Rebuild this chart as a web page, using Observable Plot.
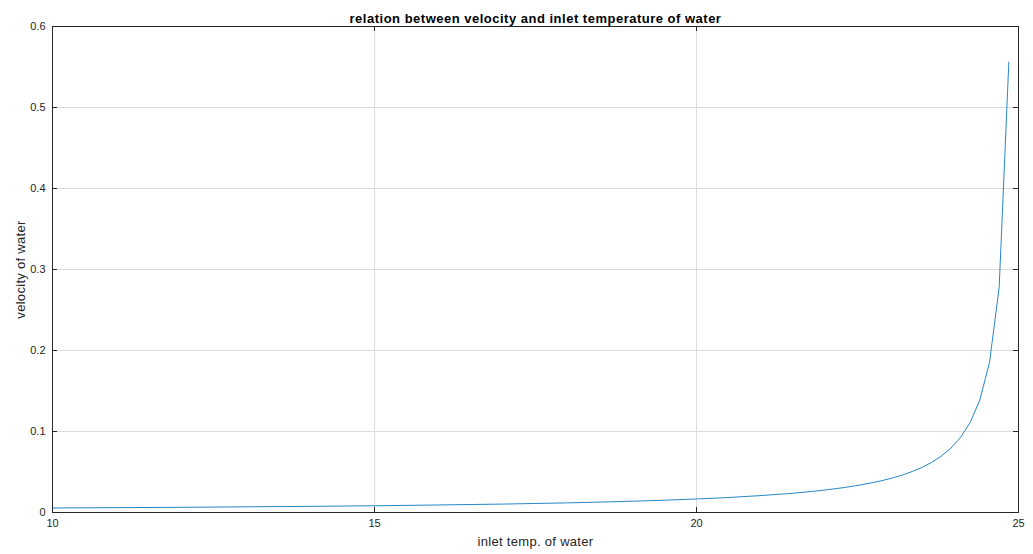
<!DOCTYPE html>
<html>
<head>
<meta charset="utf-8">
<script src="https://cdn.jsdelivr.net/npm/d3@7"></script>
<script src="https://cdn.jsdelivr.net/npm/@observablehq/plot@0.6"></script>
<style>
  html, body { margin: 0; padding: 0; background: #fff; }
  svg { display: block; }
</style>
</head>
<body>
<div id="chart"></div>
<script>
// inlet temperature of water
const temperature = [10, 11, 12, 13, 14, 15, 16, 17, 18, 19, 19.5, 20, 20.5, 21, 21.4, 21.55, 21.7, 21.85,
  22, 22.15, 22.3, 22.45, 22.6, 22.75, 22.9, 23.05, 23.2, 23.35, 23.5, 23.65, 23.8, 23.95,
  24.1, 24.25, 24.4, 24.55, 24.7, 24.85];
// velocity of water
const velocity = [0.0056, 0.0060, 0.0064, 0.0070, 0.0076, 0.0083, 0.0093, 0.0104, 0.0119, 0.0139, 0.0152, 0.0167, 0.0185, 0.0209, 0.0232, 0.0242, 0.0253, 0.0265,
  0.0278, 0.0293, 0.0309, 0.0327, 0.0348, 0.0371, 0.0397, 0.0428, 0.0463, 0.0506, 0.0556, 0.0618, 0.0695, 0.0794,
  0.0927, 0.1112, 0.139, 0.1853, 0.278, 0.556];
const xTicks = [10, 15, 20, 25];
const yTicks = [0, 0.1, 0.2, 0.3, 0.4, 0.5, 0.6];
const titleText = "relation between velocity and inlet temperature of water";
const xLabel = "inlet temp. of water";
const yLabel = "velocity of water";

const data = temperature.map((t, i) => ({t, v: velocity[i]}));

const W = 1033, H = 554;
const mL = 52, mR = 15, mT = 26, mB = 42;
const fw = W - mL - mR, fh = H - mT - mB;
const tickLen = 5;
const ink = "#262626";
const font = "'Liberation Sans', Arial, Helvetica, sans-serif";

const chart = Plot.plot({
  width: W,
  height: H,
  marginLeft: mL,
  marginRight: mR,
  marginTop: mT,
  marginBottom: mB,
  style: {fontFamily: font, fontSize: "11px", color: ink, background: "#fff"},
  x: {domain: [10, 25], ticks: xTicks},
  y: {domain: [0, 0.6], ticks: yTicks},
  marks: [
    Plot.gridX(xTicks.slice(1, -1), {stroke: "#dcdcdc", strokeOpacity: 1}),
    Plot.gridY(yTicks.slice(1, -1), {stroke: "#dcdcdc", strokeOpacity: 1}),
    Plot.line(data, {x: "t", y: "v", stroke: "#0072BD", strokeWidth: 1, strokeOpacity: 0.85}),
    // inward ticks (left, right, bottom, top)
    Plot.tickY(yTicks.slice(1, -1), {y: d => d, insetRight: fw - tickLen, stroke: ink}),
    Plot.tickY(yTicks.slice(1, -1), {y: d => d, insetLeft: fw - tickLen, stroke: ink}),
    Plot.tickX(xTicks.slice(1, -1), {x: d => d, insetTop: fh - tickLen, stroke: ink}),
    Plot.tickX(xTicks.slice(1, -1), {x: d => d, insetBottom: fh - tickLen, stroke: ink}),
    Plot.frame({stroke: ink, strokeWidth: 1}),
    Plot.axisX(xTicks, {tickSize: 0, tickPadding: 7, label: null, fill: ink, fontSize: 11}),
    Plot.axisY(yTicks, {tickSize: 0, tickPadding: 7, label: null, fill: ink, fontSize: 11, tickFormat: d => String(d)}),
    Plot.text([titleText], {frameAnchor: "top", dy: -13, text: d => d, fontWeight: "bold", fontSize: 13, fill: "#000", textAnchor: "middle", style: "letter-spacing:0.5px"}),
    Plot.text([xLabel], {frameAnchor: "bottom", dy: 33, text: d => d, fontSize: 13, fill: ink, textAnchor: "middle"}),
    Plot.text([yLabel], {frameAnchor: "left", dx: -32, rotate: -90, text: d => d, fontSize: 13, fill: ink, textAnchor: "middle"})
  ]
});
// mild letter spacing like the original rendering
d3.select(chart).selectAll("text").filter(function() { return this.textContent === titleText; }).attr("letter-spacing", "0.5px");
d3.select(chart).selectAll("text").filter(function() { return this.textContent === xLabel || this.textContent === yLabel; }).attr("letter-spacing", "0.3px");
document.getElementById("chart").appendChild(chart);
</script>
</body>
</html>
